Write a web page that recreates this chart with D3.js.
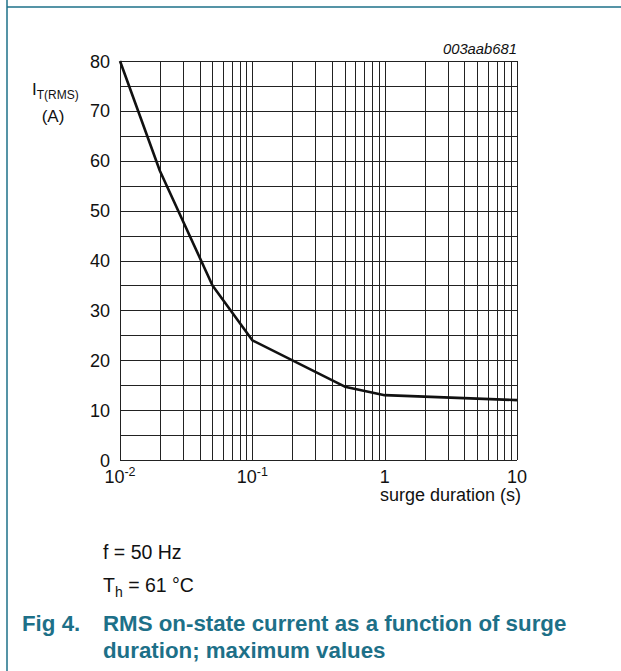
<!DOCTYPE html>
<html><head><meta charset="utf-8">
<script src="https://cdn.jsdelivr.net/npm/d3@7"></script>
<style>body{margin:0;background:#fff}svg{display:block}</style>
</head><body>
<script>
const surgeDuration = [0.01, 0.02, 0.05, 0.1, 0.5, 1, 10];
const currentRMS = [80, 58, 35, 24, 14.7, 13, 12];
const yTickLabels = [0, 10, 20, 30, 40, 50, 60, 70, 80];
const xTickLabels = [{v:0.01, b:"10", e:"-2"}, {v:0.1, b:"10", e:"-1"}, {v:1, b:"1", e:""}, {v:10, b:"10", e:""}];

const W = 621, H = 671;
const svg = d3.select("body").append("svg").attr("width", W).attr("height", H);
const font = "Liberation Sans, Arial, sans-serif";
const teal = "#1d7088";
const fs = 18;

// frame lines
svg.append("line").attr("x1", 7).attr("x2", 7).attr("y1", 0).attr("y2", H).attr("stroke", teal).attr("stroke-width", 1.5);
svg.append("line").attr("x1", 7).attr("x2", W).attr("y1", 7).attr("y2", 7).attr("stroke", teal).attr("stroke-width", 1.5);

const x = d3.scaleLog().domain([0.01, 10]).range([120, 517]);
const y = d3.scaleLinear().domain([0, 80]).range([460, 61]);

const g = svg.append("g");
const xGrid = [];
for (let dec = 0.01; dec < 10; dec *= 10) for (let k = 1; k <= 9; k++) xGrid.push(+(dec * k).toPrecision(3));
xGrid.push(10);
g.selectAll("line.vx").data(xGrid).join("line")
  .attr("x1", d => Math.round(x(d)) + 0.5).attr("x2", d => Math.round(x(d)) + 0.5)
  .attr("y1", y(0)).attr("y2", y(80)).attr("stroke", "#222").attr("stroke-width", 1);
const yGrid = d3.range(0, 81, 5);
g.selectAll("line.hy").data(yGrid).join("line")
  .attr("x1", x(0.01)).attr("x2", x(10))
  .attr("y1", d => Math.round(y(d)) + 0.5).attr("y2", d => Math.round(y(d)) + 0.5)
  .attr("stroke", "#222").attr("stroke-width", 1);

const pts = surgeDuration.map((d, i) => [d, currentRMS[i]]);
svg.append("path").datum(pts)
  .attr("d", d3.line().x(d => x(d[0])).y(d => y(d[1])))
  .attr("fill", "none").attr("stroke", "#111").attr("stroke-width", 2.6).attr("stroke-linejoin", "round");

svg.selectAll("text.yl").data(yTickLabels).join("text")
  .attr("x", 110).attr("y", d => y(d) + 6.5)
  .attr("text-anchor", "end").attr("font-family", font).attr("font-size", fs).attr("fill", "#111")
  .text(d => d);

const xl = svg.selectAll("text.xl").data(xTickLabels).join("text")
  .attr("x", d => x(d.v)).attr("y", 483)
  .attr("text-anchor", "middle").attr("font-family", font).attr("font-size", fs).attr("fill", "#111");
xl.append("tspan").text(d => d.b);
xl.append("tspan").attr("dy", -7).attr("font-size", 12.5).text(d => d.e);

const yt = svg.append("text").attr("x", 32).attr("y", 95).attr("font-family", font).attr("font-size", 17).attr("fill", "#111");
yt.append("tspan").text("I");
yt.append("tspan").attr("dy", 4).attr("font-size", 12).text("T(RMS)");
svg.append("text").attr("x", 53).attr("y", 122).attr("text-anchor", "middle").attr("font-family", font).attr("font-size", 17).attr("fill", "#111").text("(A)");

svg.append("text").attr("x", 521).attr("y", 501).attr("text-anchor", "end").attr("font-family", font).attr("font-size", fs).attr("fill", "#111").text("surge duration (s)");

svg.append("text").attr("x", 517).attr("y", 54).attr("text-anchor", "end").attr("font-family", font).attr("font-size", 14.8).attr("font-style", "italic").attr("fill", "#111").text("003aab681");

svg.append("text").attr("x", 103).attr("y", 559).attr("font-family", font).attr("font-size", 19.5).attr("fill", "#111").text("f = 50 Hz");
const th = svg.append("text").attr("x", 103).attr("y", 592).attr("font-family", font).attr("font-size", 19.5).attr("fill", "#111");
th.append("tspan").text("T");
th.append("tspan").attr("dy", 5).attr("font-size", 14).text("h");
th.append("tspan").attr("dy", -5).text(" = 61 °C");

const cap = {family: font, size: 22.3, weight: "bold", fill: teal};
svg.append("text").attr("x", 22).attr("y", 631).attr("font-family", cap.family).attr("font-size", cap.size).attr("font-weight", cap.weight).attr("fill", cap.fill).text("Fig 4.");
svg.append("text").attr("x", 103).attr("y", 631).attr("font-family", cap.family).attr("font-size", cap.size).attr("font-weight", cap.weight).attr("fill", cap.fill).text("RMS on-state current as a function of surge");
svg.append("text").attr("x", 103).attr("y", 658).attr("font-family", cap.family).attr("font-size", cap.size).attr("font-weight", cap.weight).attr("fill", cap.fill).text("duration; maximum values");
</script>
</body></html>
